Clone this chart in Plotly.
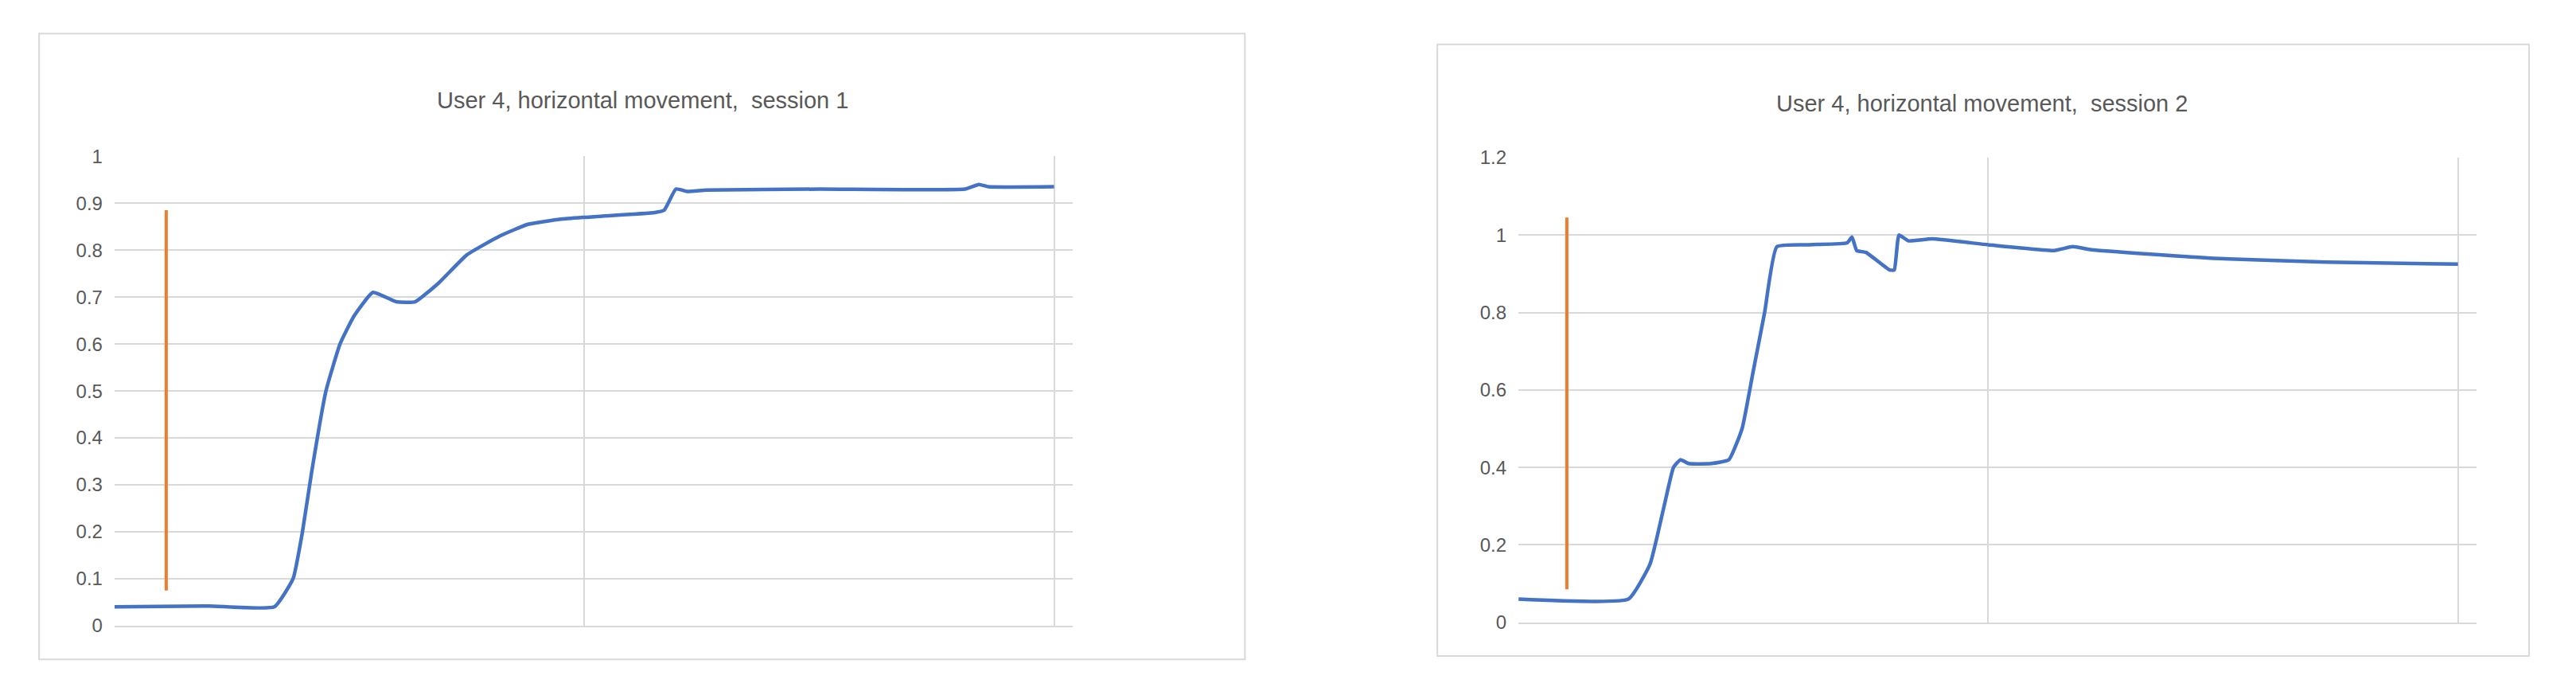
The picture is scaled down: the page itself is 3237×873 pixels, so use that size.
import plotly.graph_objects as go

# session 1 trace (x in category units 0..2)
s1_x = [0.0, 0.20, 0.34, 0.38, 0.40, 0.42, 0.45, 0.48, 0.51, 0.55, 0.60, 0.64, 0.69, 0.75, 0.82, 0.88, 0.95, 1.0,
        1.15, 1.17, 1.195, 1.22, 1.26, 1.50, 1.81, 1.84, 1.86, 2.0]
s1_y = [0.040, 0.042, 0.040, 0.10, 0.20, 0.33, 0.50, 0.60, 0.66, 0.71, 0.69, 0.69, 0.73, 0.79, 0.83, 0.855, 0.866, 0.870,
        0.880, 0.885, 0.930, 0.925, 0.928, 0.930, 0.930, 0.940, 0.935, 0.935]
# session 2 trace
s2_x = [0.0, 0.234, 0.28, 0.31, 0.33, 0.345, 0.362, 0.41, 0.448, 0.476, 0.50, 0.524, 0.55, 0.62, 0.70, 0.71, 0.72,
        0.74, 0.79, 0.80, 0.81, 0.83, 0.88, 1.0, 1.14, 1.18, 1.22, 1.48, 1.72, 2.0]
s2_y = [0.060, 0.060, 0.15, 0.30, 0.40, 0.42, 0.41, 0.41, 0.42, 0.50, 0.65, 0.80, 0.97, 0.975, 0.980, 0.995, 0.960,
        0.955, 0.910, 0.910, 1.000, 0.985, 0.990, 0.975, 0.960, 0.970, 0.962, 0.940, 0.930, 0.925]
# orange marker lines
m1_x = [0.11, 0.11]
m1_y = [0.075, 0.885]
m2_x = [0.103, 0.103]
m2_y = [0.085, 1.045]

titles = ["User 4, horizontal movement,  session 1", "User 4, horizontal movement,  session 2"]

blue = "#4472C4"
orange = "#ED7D31"
grid = "#D9D9D9"

fig = go.Figure()
fig.add_trace(go.Scatter(x=s1_x, y=s1_y, mode="lines", line=dict(color=blue, width=4.5, shape="spline", smoothing=0.4),
                         xaxis="x", yaxis="y"))
fig.add_trace(go.Scatter(x=m1_x, y=m1_y, mode="lines", line=dict(color=orange, width=4), xaxis="x", yaxis="y"))
fig.add_trace(go.Scatter(x=s2_x, y=s2_y, mode="lines", line=dict(color=blue, width=4.5, shape="spline", smoothing=0.4),
                         xaxis="x2", yaxis="y2"))
fig.add_trace(go.Scatter(x=m2_x, y=m2_y, mode="lines", line=dict(color=orange, width=4), xaxis="x2", yaxis="y2"))

xax = dict(range=[0, 2.04], tickvals=[0, 1, 2], showticklabels=False, showgrid=True, gridcolor=grid, gridwidth=2,
           zeroline=False, showline=True, linecolor=grid, linewidth=2, ticks="")
yax = dict(showgrid=True, gridcolor=grid, gridwidth=2, zeroline=False, showline=False, ticks="",
           tickfont=dict(family="Liberation Sans Narrow, Liberation Sans", size=24, color="#595959"),
           ticklabelstandoff=14)

fig.update_layout(
    width=3237, height=873, showlegend=False, plot_bgcolor="white", paper_bgcolor="white",
    margin=dict(l=0, r=0, t=0, b=0),
    xaxis=dict(domain=[0.042, 0.414], anchor="y", **xax),
    yaxis=dict(domain=[0.097, 0.794], anchor="x", range=[0, 1], dtick=0.1, **yax),
    xaxis2=dict(domain=[0.587, 0.959], anchor="y2", **xax),
    yaxis2=dict(domain=[0.102, 0.792], anchor="x2", range=[0, 1.2], dtick=0.2, **yax),
)

# chart frames
fig.add_shape(type="rect", xref="paper", yref="paper", x0=0.0127, x1=0.4808, y0=0.047, y1=0.976,
              line=dict(color=grid, width=2))
fig.add_shape(type="rect", xref="paper", yref="paper", x0=0.5555, x1=0.9793, y0=0.052, y1=0.960,
              line=dict(color=grid, width=2))

for t, xc, yc in zip(titles, [0.247, 0.767], [0.877, 0.872]):
    fig.add_annotation(text=t, xref="paper", yref="paper", x=xc, y=yc, xanchor="center", yanchor="middle",
                       showarrow=False,
                       font=dict(family="Liberation Sans Narrow, Liberation Sans", size=29, color="#595959"))

fig.write_html("out.html")
